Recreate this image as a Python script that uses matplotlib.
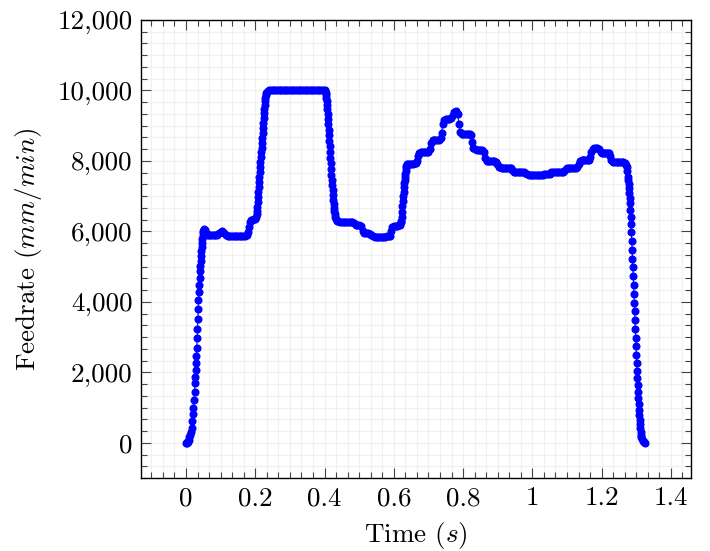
import matplotlib.pyplot as plt
from matplotlib.ticker import AutoMinorLocator, FixedLocator, FixedFormatter

plt.rcParams['font.family'] = 'serif'
plt.rcParams['font.serif'] = ['cmr10']
plt.rcParams['mathtext.fontset'] = 'cm'
plt.rcParams['axes.formatter.use_mathtext'] = True

# feedrate profile, one row of time per row of feedrate
time_s = [
    0.000, 0.002, 0.004, 0.006, 0.008, 0.010, 0.012, 0.014, 0.016, 0.018,
    0.020, 0.0215, 0.023, 0.0245, 0.026, 0.027, 0.028, 0.029, 0.030, 0.031,
    0.032, 0.033, 0.034, 0.035, 0.036, 0.037, 0.038, 0.039, 0.040, 0.041,
    0.042, 0.043, 0.044, 0.045, 0.046, 0.047, 0.048, 0.049, 0.050, 0.052,
    # first plateau
    0.055, 0.058, 0.062, 0.066, 0.070, 0.075, 0.080, 0.085, 0.090, 0.095,
    0.100, 0.105, 0.110, 0.115, 0.120, 0.125, 0.130, 0.135, 0.140, 0.145,
    0.150, 0.155, 0.160, 0.165, 0.170, 0.175, 0.178, 0.181, 0.184, 0.187,
    0.190, 0.195, 0.200, 0.202,
    # climb to max feedrate
    0.204, 0.205, 0.206, 0.207, 0.208, 0.209, 0.210, 0.211, 0.212, 0.213,
    0.214, 0.215, 0.216, 0.217, 0.218, 0.219, 0.220, 0.221, 0.222, 0.223,
    0.224, 0.225, 0.226, 0.227, 0.228, 0.229, 0.230, 0.231, 0.233, 0.236,
    0.240,
    # max feedrate
    0.245, 0.250, 0.255, 0.260, 0.265, 0.270, 0.275, 0.280, 0.285, 0.290,
    0.295, 0.300, 0.305, 0.310, 0.315, 0.320, 0.325, 0.330, 0.335, 0.340,
    0.345, 0.350, 0.355, 0.360, 0.365, 0.370, 0.375, 0.380, 0.385, 0.390,
    0.395, 0.400,
    # slow down
    0.402, 0.403, 0.404, 0.405, 0.406, 0.407, 0.408, 0.409, 0.410, 0.411,
    0.412, 0.413, 0.414, 0.415, 0.416, 0.417, 0.418, 0.419, 0.420, 0.421,
    0.422, 0.423, 0.424, 0.425, 0.426, 0.427, 0.428, 0.429, 0.430, 0.432,
    0.435,
    # second plateau
    0.440, 0.445, 0.450, 0.455, 0.460, 0.465, 0.470, 0.475, 0.480, 0.485,
    0.490, 0.495, 0.500, 0.505, 0.510, 0.515, 0.520, 0.525, 0.530, 0.535,
    0.540, 0.545, 0.550, 0.555, 0.560, 0.565, 0.570, 0.575, 0.580, 0.585,
    0.588, 0.592, 0.596, 0.600, 0.605, 0.610, 0.615, 0.618, 0.621,
    # climb
    0.622, 0.623, 0.624, 0.625, 0.626, 0.627, 0.628, 0.629, 0.630, 0.631,
    0.632, 0.633, 0.634, 0.635, 0.636, 0.638,
    # stepped section
    0.642, 0.646, 0.650, 0.655, 0.660, 0.663, 0.666, 0.670, 0.674, 0.678,
    0.682, 0.686, 0.690, 0.695, 0.700, 0.704, 0.708, 0.712, 0.716, 0.720,
    0.725, 0.730, 0.735, 0.738, 0.741, 0.745, 0.750, 0.755, 0.760, 0.765,
    0.770, 0.775, 0.780, 0.784, 0.788, 0.792, 0.797, 0.801, 0.805, 0.810,
    0.815, 0.819, 0.822, 0.826, 0.830, 0.835, 0.840, 0.845, 0.850, 0.855,
    0.859, 0.863, 0.868, 0.872, 0.876, 0.880, 0.885, 0.890, 0.895, 0.899,
    0.903, 0.907, 0.911, 0.915, 0.920, 0.925, 0.930, 0.934, 0.938, 0.942,
    0.947, 0.951, 0.955, 0.960, 0.965, 0.970, 0.975, 0.980, 0.985, 0.990,
    0.995, 1.000, 1.005, 1.010, 1.015, 1.020, 1.025, 1.030, 1.035, 1.040,
    1.045, 1.050, 1.055, 1.060, 1.065, 1.070, 1.075, 1.080, 1.085, 1.089,
    1.092, 1.096, 1.100, 1.105, 1.110, 1.115, 1.120, 1.125, 1.130, 1.134,
    1.138, 1.142, 1.146, 1.150, 1.155, 1.160, 1.163, 1.166, 1.170, 1.175,
    1.179, 1.183, 1.188, 1.193, 1.197, 1.201, 1.205, 1.209, 1.213, 1.217,
    1.220, 1.224, 1.228, 1.233, 1.238, 1.243, 1.248, 1.253, 1.258, 1.262,
    1.267, 1.270,
    # final stop
    1.272, 1.274, 1.276, 1.277, 1.278, 1.279, 1.280, 1.281, 1.282, 1.283,
    1.284, 1.285, 1.286, 1.287, 1.288, 1.289, 1.290, 1.291, 1.292, 1.293,
    1.294, 1.295, 1.296, 1.297, 1.298, 1.299, 1.300, 1.301, 1.302, 1.303,
    1.304, 1.305, 1.306, 1.307, 1.308, 1.309, 1.310, 1.311, 1.312, 1.313,
    1.314, 1.315, 1.317, 1.319, 1.321, 1.323, 1.326,
]

feedrate = [
    0, 0, 10, 30, 80, 150, 220, 300, 430, 620,
    820, 1000, 1220, 1450, 1690, 1870, 2060, 2260, 2470, 2680,
    2960, 3240, 3520, 3800, 4060, 4280, 4480, 4690, 4880, 5030,
    5170, 5300, 5430, 5560, 5680, 5790, 5880, 5960, 6020, 6060,
    # first plateau
    6030, 5950, 5900, 5890, 5890, 5890, 5890, 5895, 5900, 5950,
    5990, 6000, 5960, 5900, 5870, 5865, 5865, 5865, 5865, 5865,
    5865, 5865, 5865, 5865, 5870, 5890, 5980, 6120, 6260, 6320,
    6330, 6340, 6360, 6400,
    # climb to max feedrate
    6480, 6580, 6700, 6840, 6980, 7120, 7260, 7400, 7540, 7680,
    7820, 7960, 8100, 8240, 8380, 8520, 8660, 8800, 8940, 9080,
    9220, 9350, 9480, 9600, 9710, 9800, 9870, 9920, 9970, 9995,
    10000,
    # max feedrate
    10000, 10000, 10000, 10000, 10000, 10000, 10000, 10000, 10000, 10000,
    10000, 10000, 10000, 10000, 10000, 10000, 10000, 10000, 10000, 10000,
    10000, 10000, 10000, 10000, 10000, 10000, 10000, 10000, 10000, 10000,
    10000, 10000,
    # slow down
    9980, 9940, 9880, 9800, 9700, 9590, 9470, 9340, 9200, 9050,
    8890, 8730, 8570, 8410, 8250, 8090, 7930, 7770, 7610, 7460,
    7310, 7170, 7030, 6900, 6780, 6670, 6570, 6480, 6410, 6340,
    6300,
    # second plateau
    6290, 6280, 6280, 6280, 6280, 6280, 6280, 6275, 6270, 6230,
    6190, 6175, 6170, 6140, 6020, 5960, 5945, 5940, 5935, 5900,
    5860, 5850, 5850, 5850, 5850, 5850, 5850, 5850, 5855, 5865,
    5880, 6000, 6120, 6150, 6155, 6160, 6170, 6180, 6280,
    # climb
    6300, 6420, 6560, 6710, 6860, 7000, 7130, 7250, 7360, 7460,
    7550, 7640, 7720, 7790, 7850, 7900,
    # stepped section
    7915, 7920, 7920, 7925, 7930, 7940, 7990, 8150, 8230, 8240,
    8245, 8245, 8250, 8250, 8255, 8330, 8500, 8580, 8595, 8600,
    8600, 8600, 8640, 8800, 9050, 9170, 9185, 9190, 9200, 9210,
    9300, 9390, 9410, 9330, 9050, 8830, 8770, 8765, 8765, 8765,
    8765, 8760, 8740, 8550, 8380, 8325, 8320, 8320, 8320, 8320,
    8250, 8080, 8000, 7990, 7990, 7990, 7990, 7985, 7980, 7900,
    7830, 7815, 7810, 7810, 7810, 7810, 7810, 7808, 7800, 7730,
    7690, 7686, 7686, 7686, 7686, 7686, 7680, 7650, 7620, 7612,
    7612, 7610, 7610, 7610, 7610, 7610, 7612, 7613, 7615, 7617,
    7620, 7640, 7680, 7686, 7686, 7686, 7686, 7686, 7686, 7690,
    7700, 7780, 7810, 7810, 7810, 7810, 7810, 7812, 7815, 7900,
    8000, 8015, 8017, 8017, 8017, 8020, 8040, 8100, 8250, 8340,
    8370, 8380, 8380, 8330, 8250, 8235, 8235, 8235, 8235, 8233,
    8230, 8150, 8020, 7975, 7970, 7970, 7970, 7970, 7968, 7965,
    7940, 7890,
    # final stop
    7820, 7700, 7550, 7450, 7340, 7220, 7090, 6950, 6800, 6620,
    6420, 6200, 5970, 5730, 5480, 5230, 4980, 4730, 4480, 4230,
    3980, 3730, 3480, 3230, 2980, 2740, 2500, 2270, 2050, 1840,
    1640, 1450, 1270, 1100, 940, 790, 650, 520, 410, 310,
    230, 170, 100, 55, 25, 10, 0,
]

assert len(time_s) == len(feedrate)

x_ticks = [0, 0.2, 0.4, 0.6, 0.8, 1, 1.2, 1.4]
x_labels = ['0', '0.2', '0.4', '0.6', '0.8', '1', '1.2', '1.4']
y_ticks = [0, 2000, 4000, 6000, 8000, 10000, 12000]
y_labels = ['0', '2,000', '4,000', '6,000', '8,000', '10,000', '12,000']

fig = plt.figure(figsize=(7.1, 5.51), dpi=100)
ax = fig.add_axes([141 / 710, 1 - 478 / 551, 550 / 710, 458 / 551])

ax.plot(time_s, feedrate, color='blue', lw=0.8, marker='o', ms=4.8,
        mfc='blue', mec='blue', zorder=3)

ax.set_xlim(-0.13, 1.458)
ax.set_ylim(-1000, 12000)

ax.xaxis.set_major_locator(FixedLocator(x_ticks))
ax.xaxis.set_major_formatter(FixedFormatter(x_labels))
ax.yaxis.set_major_locator(FixedLocator(y_ticks))
ax.yaxis.set_major_formatter(FixedFormatter(y_labels))
ax.xaxis.set_minor_locator(AutoMinorLocator(6))
ax.yaxis.set_minor_locator(AutoMinorLocator(6))

ax.grid(which='both', color='#f0f0f0', lw=0.9)
ax.set_axisbelow(True)

ax.tick_params(which='both', direction='in', top=True, right=True,
               width=0.8, color='#444444', labelsize=19.5)
ax.tick_params(which='major', length=7.2, pad=6)
ax.tick_params(which='minor', length=4.6)
for s in ax.spines.values():
    s.set_linewidth(1.0)

ax.set_xlabel('Time ($s$)', fontsize=19.5, labelpad=7)
ax.set_ylabel('Feedrate ($mm/min$)', fontsize=19.5, labelpad=10)

fig.savefig('out.png', dpi=100)
